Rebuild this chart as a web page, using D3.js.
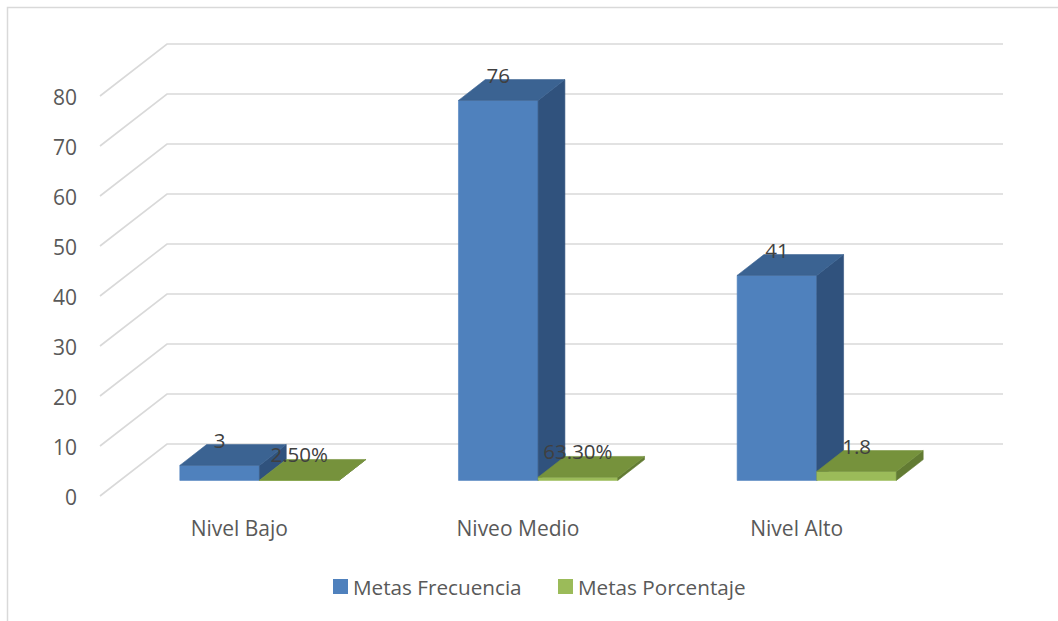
<!DOCTYPE html>
<html>
<head>
<meta charset="utf-8">
<script src="https://cdn.jsdelivr.net/npm/d3@7"></script>
<style>
  html, body { margin: 0; padding: 0; background: #fff; }
  svg { display: block; }
  text { font-family: "Open Sans", "Noto Sans", sans-serif; }
</style>
</head>
<body>
<svg id="chart" width="1058" height="621"></svg>
<script>
// Categories and series values
const categories = ["Nivel Bajo", "Niveo Medio", "Nivel Alto"];
const seriesNames = ["Metas Frecuencia", "Metas Porcentaje"];
const frecuencia = [3, 76, 41];
const porcentaje = [0.025, 0.633, 1.8];
const frecuenciaLabels = ["3", "76", "41"];
const porcentajeLabels = ["2.50%", "63.30%", "1.8"];
const yTicks = [0, 10, 20, 30, 40, 50, 60, 70, 80];

// Face colours per series: front, top, side
const palette = {
  "Metas Frecuencia": { front: "#4f81bd", top: "#3b6392", side: "#30527d", key: "#4f81bd" },
  "Metas Porcentaje": { front: "#9bbb59", top: "#76923c", side: "#627b33", key: "#9bbb59" }
};

const svg = d3.select("#chart");
const W = 1058, H = 621;

// Outer frame of the chart area
svg.append("rect")
  .attr("x", 7.5).attr("y", 7.5)
  .attr("width", W + 10).attr("height", H + 10)
  .attr("fill", "#fff").attr("stroke", "#d9d9d9").attr("stroke-width", 1.5);

// Oblique 3D frame: front floor edge, plus a depth vector for the walls
const x0 = 100, x1 = 936;
const depth = { dx: 67, dy: -52 };
const y = d3.scaleLinear().domain([0, 80]).range([496, 96]);
const x = d3.scaleBand().domain(categories).range([x0, x1]).paddingInner(0).paddingOuter(0);
const xs = d3.scaleBand().domain(seriesNames).range([0, x.bandwidth()])
  .paddingInner(0).paddingOuter(0.75);

// Bars occupy the middle part of the depth
const zFront = 0.3, zBack = 0.7;
const proj = (px, v, z) => [px + depth.dx * z, y(v) + depth.dy * z];

// Gridlines on the side and back walls
const grid = svg.append("g");
yTicks.forEach(t => {
  const pts = [proj(x0, t, 0), proj(x0, t, 1), proj(x1, t, 1)];
  grid.append("polyline")
    .attr("points", pts.map(p => p.join(",")).join(" "))
    .attr("fill", "none")
    .attr("stroke", "#d9d9d9")
    .attr("stroke-width", 1.6);
});

// Value axis labels
svg.append("g").selectAll("text").data(yTicks).join("text")
  .attr("x", 77).attr("y", d => y(d) + 1)
  .attr("text-anchor", "end")
  .attr("dominant-baseline", "central")
  .attr("font-size", 21)
  .attr("fill", "#595959")
  .text(d => d);

// 3D columns
const poly = (g, pts, fill) => g.append("polygon")
  .attr("points", pts.map(p => p.join(",")).join(" "))
  .attr("fill", fill)
  .attr("stroke", fill)
  .attr("stroke-width", 0.6)
  .attr("stroke-linejoin", "round");

function drawBar(g, left, right, v, colors) {
  // front face
  poly(g, [proj(left, 0, zFront), proj(right, 0, zFront), proj(right, v, zFront), proj(left, v, zFront)], colors.front);
  // right side face
  poly(g, [proj(right, 0, zFront), proj(right, 0, zBack), proj(right, v, zBack), proj(right, v, zFront)], colors.side);
  // top face
  poly(g, [proj(left, v, zFront), proj(right, v, zFront), proj(right, v, zBack), proj(left, v, zBack)], colors.top);
}

const seriesData = [
  { name: seriesNames[0], values: frecuencia, labels: frecuenciaLabels },
  { name: seriesNames[1], values: porcentaje, labels: porcentajeLabels }
];

const bars = svg.append("g");
categories.forEach((c, i) => {
  seriesData.forEach(s => {
    const left = x(c) + xs(s.name);
    drawBar(bars, left, left + xs.bandwidth(), s.values[i], palette[s.name]);
  });
});

// Data labels above each column
const labels = svg.append("g");
categories.forEach((c, i) => {
  seriesData.forEach(s => {
    const cx = proj(x(c) + xs(s.name) + xs.bandwidth() / 2, 0, zFront)[0];
    const topBack = proj(0, s.values[i], zBack)[1];
    labels.append("text")
      .attr("x", cx).attr("y", topBack + 3)
      .attr("text-anchor", "middle")
      .attr("font-size", 20.5)
      .attr("fill", "#404040")
      .text(s.labels[i]);
  });
});

// Category axis labels
svg.append("g").selectAll("text").data(categories).join("text")
  .attr("x", d => x(d) + x.bandwidth() / 2)
  .attr("y", 536)
  .attr("text-anchor", "middle")
  .attr("font-size", 21)
  .attr("fill", "#595959")
  .text(d => d);

// Legend
const legendPos = [333, 558];
const legend = svg.append("g");
seriesNames.forEach((n, i) => {
  legend.append("rect")
    .attr("x", legendPos[i]).attr("y", 579)
    .attr("width", 15).attr("height", 15)
    .attr("fill", palette[n].key);
  legend.append("text")
    .attr("x", legendPos[i] + 20).attr("y", 587)
    .attr("dominant-baseline", "central")
    .attr("font-size", 20.7)
    .attr("fill", "#595959")
    .text(n);
});
</script>
</body>
</html>
